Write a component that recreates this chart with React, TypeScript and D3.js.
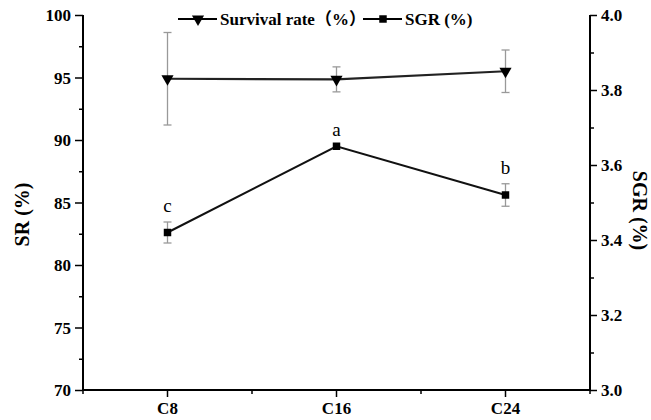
import React, { useEffect, useRef } from 'react';
import * as d3 from 'd3';

const groups = ['C8', 'C16', 'C24'];
const survival = [94.9, 94.85, 95.5];
const survivalErr = [3.7, 1.0, 1.7];
const sgr = [3.42, 3.65, 3.52];
const sgrErr = [0.028, 0.0, 0.03];
const sgrLetters = ['c', 'a', 'b'];
const srTicks = [70, 75, 80, 85, 90, 95, 100];
const sgrTicks = [3.0, 3.2, 3.4, 3.6, 3.8, 4.0];

const W = 651;
const H = 420;
const margin = { top: 15, right: 61, bottom: 30, left: 83 };
const FONT = '"Liberation Serif", "Times New Roman", "Noto Sans CJK SC", serif';

const App = () => {
  const svgRef = useRef<SVGSVGElement | null>(null);

  useEffect(() => {
    const svg = d3.select(svgRef.current);
    svg.selectAll('*').remove();

    const x0 = margin.left;
    const x1 = W - margin.right;
    const y0 = H - margin.bottom;
    const y1 = margin.top;

    const x = d3.scaleBand().domain(groups).range([x0, x1]);
    const cx = (g: string) => (x(g) as number) + x.bandwidth() / 2;
    const ySR = d3.scaleLinear().domain([70, 100]).range([y0, y1]);
    const ySGR = d3.scaleLinear().domain([3.0, 4.0]).range([y0, y1]);

    svg.append('rect').attr('width', W).attr('height', H).attr('fill', '#fff');

    // left axis
    const left = svg.append('g').attr('transform', `translate(${x0},0)`);
    left.call(
      d3.axisLeft(ySR).tickValues(d3.range(70, 100.1, 2.5)).tickSize(7).tickFormat(() => '')
    );
    left
      .selectAll('.tick line')
      .attr('x2', (d: any) => (d % 5 === 0 ? -8 : -4))
      .attr('stroke', '#000')
      .attr('stroke-width', 1.5);
    left.select('.domain').remove();
    left.append('line').attr('y1', y0).attr('y2', y1).attr('stroke', '#000').attr('stroke-width', 2);
    left
      .selectAll('text.lbl')
      .data(srTicks)
      .enter()
      .append('text')
      .attr('class', 'lbl')
      .attr('x', -12)
      .attr('y', (d) => ySR(d) + 6)
      .attr('text-anchor', 'end')
      .attr('fill', '#000')
      .attr('font-family', FONT)
      .attr('font-weight', 'bold')
      .attr('font-size', 17)
      .text((d) => d);

    // right axis
    const right = svg.append('g').attr('transform', `translate(${x1},0)`);
    right.call(
      d3.axisRight(ySGR).tickValues(d3.range(3.0, 4.01, 0.1)).tickSize(7).tickFormat(() => '')
    );
    right
      .selectAll('.tick line')
      .attr('x2', (d: any) => (Math.round(d * 10) % 2 === 0 ? 7 : 4))
      .attr('stroke', '#000')
      .attr('stroke-width', 1.5);
    right.select('.domain').remove();
    right.append('line').attr('y1', y0).attr('y2', y1).attr('stroke', '#000').attr('stroke-width', 2);
    right
      .selectAll('text.lbl')
      .data(sgrTicks)
      .enter()
      .append('text')
      .attr('class', 'lbl')
      .attr('x', 11)
      .attr('y', (d) => ySGR(d) + 6)
      .attr('fill', '#000')
      .attr('font-family', FONT)
      .attr('font-weight', 'bold')
      .attr('font-size', 17)
      .text((d) => d.toFixed(1));

    // bottom axis
    const bottom = svg.append('g').attr('transform', `translate(0,${y0})`);
    const bounds = [x0, ...groups.slice(1).map((g) => x(g) as number), x1];
    bottom
      .selectAll('line.minor')
      .data(bounds)
      .enter()
      .append('line')
      .attr('class', 'minor')
      .attr('x1', (d) => d)
      .attr('x2', (d) => d)
      .attr('y2', 4)
      .attr('stroke', '#000')
      .attr('stroke-width', 1.5);
    bottom
      .selectAll('line.major')
      .data(groups)
      .enter()
      .append('line')
      .attr('class', 'major')
      .attr('x1', (d) => cx(d))
      .attr('x2', (d) => cx(d))
      .attr('y2', 7)
      .attr('stroke', '#000')
      .attr('stroke-width', 1.5);
    bottom.append('line').attr('x1', x0 - 1).attr('x2', x1 + 1).attr('stroke', '#000').attr('stroke-width', 2);
    bottom
      .selectAll('text')
      .data(groups)
      .enter()
      .append('text')
      .attr('x', (d) => cx(d))
      .attr('y', 24)
      .attr('text-anchor', 'middle')
      .attr('font-family', FONT)
      .attr('font-weight', 'bold')
      .attr('font-size', 17)
      .text((d) => d);

    // axis titles
    svg
      .append('text')
      .attr('transform', `translate(29,${(y0 + y1) / 2 + 12}) rotate(-90)`)
      .attr('text-anchor', 'middle')
      .attr('font-family', FONT)
      .attr('font-weight', 'bold')
      .attr('font-size', 20)
      .text('SR (%)');
    svg
      .append('text')
      .attr('transform', `translate(633,${(y0 + y1) / 2 + 8}) rotate(90)`)
      .attr('text-anchor', 'middle')
      .attr('font-family', FONT)
      .attr('font-weight', 'bold')
      .attr('font-size', 20)
      .text('SGR (%)');

    const drawErr = (vals: number[], errs: number[], y: d3.ScaleLinear<number, number>) => {
      const g = svg.append('g').attr('stroke', '#999').attr('stroke-width', 1.3);
      groups.forEach((grp, i) => {
        if (errs[i] <= 0) return;
        const px = cx(grp);
        const top = y(vals[i] + errs[i]);
        const bot = y(vals[i] - errs[i]);
        g.append('line').attr('x1', px).attr('x2', px).attr('y1', top).attr('y2', bot);
        g.append('line').attr('x1', px - 4).attr('x2', px + 4).attr('y1', top).attr('y2', top);
        g.append('line').attr('x1', px - 4).attr('x2', px + 4).attr('y1', bot).attr('y2', bot);
      });
    };

    drawErr(survival, survivalErr, ySR);
    drawErr(sgr, sgrErr, ySGR);

    const lineSR = d3
      .line<number>()
      .x((_, i) => cx(groups[i]))
      .y((d) => ySR(d));
    const lineSGR = d3
      .line<number>()
      .x((_, i) => cx(groups[i]))
      .y((d) => ySGR(d));

    svg.append('path').attr('d', lineSR(survival)).attr('fill', 'none').attr('stroke', '#222').attr('stroke-width', 2.2);
    svg.append('path').attr('d', lineSGR(sgr)).attr('fill', 'none').attr('stroke', '#111').attr('stroke-width', 2);

    const tri = d3.symbol().type(d3.symbolTriangle).size(64)();
    const sq = d3.symbol().type(d3.symbolSquare).size(56)();

    svg
      .selectAll('path.tri')
      .data(survival)
      .enter()
      .append('path')
      .attr('class', 'tri')
      .attr('d', tri)
      .attr('transform', (d, i) => `translate(${cx(groups[i])},${ySR(d)}) rotate(180)`)
      .attr('fill', '#000');
    svg
      .selectAll('path.sq')
      .data(sgr)
      .enter()
      .append('path')
      .attr('class', 'sq')
      .attr('d', sq)
      .attr('transform', (d, i) => `translate(${cx(groups[i])},${ySGR(d)})`)
      .attr('fill', '#000');

    svg
      .selectAll('text.letter')
      .data(sgrLetters)
      .enter()
      .append('text')
      .attr('class', 'letter')
      .attr('x', (_, i) => cx(groups[i]))
      .attr('y', (_, i) => ySGR(sgr[i] + sgrErr[i]) - 10)
      .attr('text-anchor', 'middle')
      .attr('font-family', FONT)
      .attr('font-size', 19)
      .text((d) => d);

    // legend
    const leg = svg.append('g').attr('transform', 'translate(0,19)');
    const items = [
      { label: 'Survival rate（%）', x: 178, sym: tri, rot: 180 },
      { label: 'SGR (%)', x: 363, sym: sq, rot: 0 },
    ];
    items.forEach((it) => {
      leg.append('line').attr('x1', it.x).attr('x2', it.x + 39).attr('stroke', '#000').attr('stroke-width', 2);
      leg
        .append('path')
        .attr('d', it.sym)
        .attr('transform', `translate(${it.x + 20},0) rotate(${it.rot})`)
        .attr('fill', '#000');
      leg
        .append('text')
        .attr('x', it.x + 42)
        .attr('y', 6)
        .attr('font-family', FONT)
        .attr('font-weight', 'bold')
        .attr('font-size', 17)
        .text(it.label);
    });
  }, []);

  return (
    <svg
      ref={svgRef}
      width={W}
      height={H}
      style={{ position: 'absolute', left: 0, top: 0, display: 'block' }}
    />
  );
};

export default App;
